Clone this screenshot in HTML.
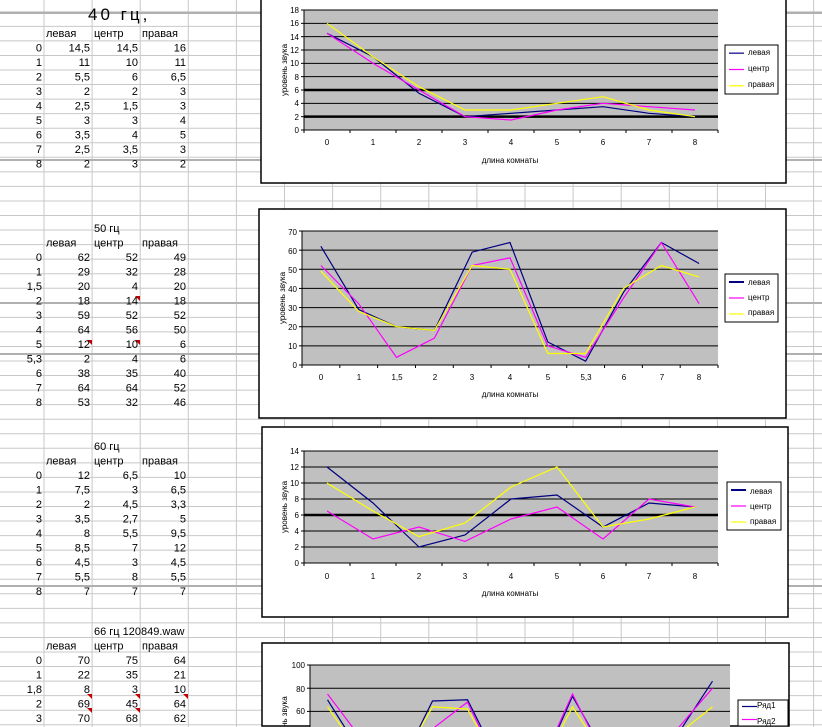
<!DOCTYPE html>
<html><head><meta charset="utf-8"><style>
html,body{margin:0;padding:0;background:#fff;overflow:hidden;width:822px;height:727px}
svg{display:block;font-family:"Liberation Sans",sans-serif;overflow:hidden}
.t{font-size:11px;fill:#000}
.s{font-size:8px;fill:#000}
</style></head><body>
<svg id="sv" width="822" height="727" viewBox="0 0 822 727" xmlns="http://www.w3.org/2000/svg">
<g id="grid"></g>
<g id="tables" class="t">
<text x="88" y="20" style="font-size:17px;font-weight:300;letter-spacing:3px">40 гц,</text>
<text x="46" y="37">левая</text><text x="94" y="37">центр</text><text x="142" y="37">правая</text>
<g text-anchor="end">
<text x="42" y="51.5">0</text><text x="90" y="51.5">14,5</text><text x="138" y="51.5">14,5</text><text x="186" y="51.5">16</text>
<text x="42" y="66">1</text><text x="90" y="66">11</text><text x="138" y="66">10</text><text x="186" y="66">11</text>
<text x="42" y="80.5">2</text><text x="90" y="80.5">5,5</text><text x="138" y="80.5">6</text><text x="186" y="80.5">6,5</text>
<text x="42" y="95">3</text><text x="90" y="95">2</text><text x="138" y="95">2</text><text x="186" y="95">3</text>
<text x="42" y="109.5">4</text><text x="90" y="109.5">2,5</text><text x="138" y="109.5">1,5</text><text x="186" y="109.5">3</text>
<text x="42" y="124">5</text><text x="90" y="124">3</text><text x="138" y="124">3</text><text x="186" y="124">4</text>
<text x="42" y="138.5">6</text><text x="90" y="138.5">3,5</text><text x="138" y="138.5">4</text><text x="186" y="138.5">5</text>
<text x="42" y="153">7</text><text x="90" y="153">2,5</text><text x="138" y="153">3,5</text><text x="186" y="153">3</text>
<text x="42" y="167.5">8</text><text x="90" y="167.5">2</text><text x="138" y="167.5">3</text><text x="186" y="167.5">2</text>
</g>
<text x="94" y="232">50 гц</text>
<text x="46" y="246.5">левая</text><text x="94" y="246.5">центр</text><text x="142" y="246.5">правая</text>
<g text-anchor="end">
<text x="42" y="261">0</text><text x="90" y="261">62</text><text x="138" y="261">52</text><text x="186" y="261">49</text>
<text x="42" y="275.5">1</text><text x="90" y="275.5">29</text><text x="138" y="275.5">32</text><text x="186" y="275.5">28</text>
<text x="42" y="290">1,5</text><text x="90" y="290">20</text><text x="138" y="290">4</text><text x="186" y="290">20</text>
<text x="42" y="304.5">2</text><text x="90" y="304.5">18</text><text x="138" y="304.5">14</text><text x="186" y="304.5">18</text>
<text x="42" y="319">3</text><text x="90" y="319">59</text><text x="138" y="319">52</text><text x="186" y="319">52</text>
<text x="42" y="333.5">4</text><text x="90" y="333.5">64</text><text x="138" y="333.5">56</text><text x="186" y="333.5">50</text>
<text x="42" y="348">5</text><text x="90" y="348">12</text><text x="138" y="348">10</text><text x="186" y="348">6</text>
<text x="42" y="362.5">5,3</text><text x="90" y="362.5">2</text><text x="138" y="362.5">4</text><text x="186" y="362.5">6</text>
<text x="42" y="377">6</text><text x="90" y="377">38</text><text x="138" y="377">35</text><text x="186" y="377">40</text>
<text x="42" y="391.5">7</text><text x="90" y="391.5">64</text><text x="138" y="391.5">64</text><text x="186" y="391.5">52</text>
<text x="42" y="406">8</text><text x="90" y="406">53</text><text x="138" y="406">32</text><text x="186" y="406">46</text>
</g>
<text x="94" y="450">60 гц</text>
<text x="46" y="464.5">левая</text><text x="94" y="464.5">центр</text><text x="142" y="464.5">правая</text>
<g text-anchor="end">
<text x="42" y="479">0</text><text x="90" y="479">12</text><text x="138" y="479">6,5</text><text x="186" y="479">10</text>
<text x="42" y="493.5">1</text><text x="90" y="493.5">7,5</text><text x="138" y="493.5">3</text><text x="186" y="493.5">6,5</text>
<text x="42" y="508">2</text><text x="90" y="508">2</text><text x="138" y="508">4,5</text><text x="186" y="508">3,3</text>
<text x="42" y="522.5">3</text><text x="90" y="522.5">3,5</text><text x="138" y="522.5">2,7</text><text x="186" y="522.5">5</text>
<text x="42" y="537">4</text><text x="90" y="537">8</text><text x="138" y="537">5,5</text><text x="186" y="537">9,5</text>
<text x="42" y="551.5">5</text><text x="90" y="551.5">8,5</text><text x="138" y="551.5">7</text><text x="186" y="551.5">12</text>
<text x="42" y="566">6</text><text x="90" y="566">4,5</text><text x="138" y="566">3</text><text x="186" y="566">4,5</text>
<text x="42" y="580.5">7</text><text x="90" y="580.5">5,5</text><text x="138" y="580.5">8</text><text x="186" y="580.5">5,5</text>
<text x="42" y="595">8</text><text x="90" y="595">7</text><text x="138" y="595">7</text><text x="186" y="595">7</text>
</g>
<text x="94" y="635">66 гц  120849.waw</text>
<text x="46" y="649.5">левая</text><text x="94" y="649.5">центр</text><text x="142" y="649.5">правая</text>
<g text-anchor="end">
<text x="42" y="664">0</text><text x="90" y="664">70</text><text x="138" y="664">75</text><text x="186" y="664">64</text>
<text x="42" y="678.5">1</text><text x="90" y="678.5">22</text><text x="138" y="678.5">35</text><text x="186" y="678.5">21</text>
<text x="42" y="693">1,8</text><text x="90" y="693">8</text><text x="138" y="693">3</text><text x="186" y="693">10</text>
<text x="42" y="707.5">2</text><text x="90" y="707.5">69</text><text x="138" y="707.5">45</text><text x="186" y="707.5">64</text>
<text x="42" y="722">3</text><text x="90" y="722">70</text><text x="138" y="722">68</text><text x="186" y="722">62</text>
</g>
</g>
<g id="charts"></g>
<g id="labels">
<g class="s" text-anchor="end">
<text x="299" y="133">0</text><text x="299" y="120">2</text><text x="299" y="106">4</text><text x="299" y="93">6</text><text x="299" y="80">8</text><text x="299" y="66">10</text><text x="299" y="53">12</text><text x="299" y="40">14</text><text x="299" y="26">16</text><text x="299" y="13">18</text>
</g>
<g class="s" text-anchor="middle">
<text x="327" y="145">0</text><text x="373" y="145">1</text><text x="419" y="145">2</text><text x="465" y="145">3</text><text x="511" y="145">4</text><text x="557" y="145">5</text><text x="603" y="145">6</text><text x="649" y="145">7</text><text x="695" y="145">8</text>
<text x="510" y="163">длина комнаты</text>
<text transform="translate(287,70) rotate(-90)">уровень звука</text>
</g>
<g class="s"><text x="748" y="55">левая</text><text x="748" y="71">центр</text><text x="748" y="87">правая</text></g>
<g class="s" text-anchor="end">
<text x="297" y="368">0</text><text x="297" y="349">10</text><text x="297" y="330">20</text><text x="297" y="311">30</text><text x="297" y="292">40</text><text x="297" y="273">50</text><text x="297" y="254">60</text><text x="297" y="235">70</text>
</g>
<g class="s" text-anchor="middle">
<text x="321" y="380">0</text><text x="359" y="380">1</text><text x="397" y="380">1,5</text><text x="435" y="380">2</text><text x="472" y="380">3</text><text x="510" y="380">4</text><text x="548" y="380">5</text><text x="586" y="380">5,3</text><text x="624" y="380">6</text><text x="662" y="380">7</text><text x="699" y="380">8</text>
<text x="510" y="397">длина комнаты</text>
<text transform="translate(285,298) rotate(-90)">уровень звука</text>
</g>
<g class="s"><text x="748" y="285">левая</text><text x="748" y="300">центр</text><text x="748" y="315">правая</text></g>
<g class="s" text-anchor="end">
<text x="299" y="566">0</text><text x="299" y="550">2</text><text x="299" y="534">4</text><text x="299" y="518">6</text><text x="299" y="502">8</text><text x="299" y="486">10</text><text x="299" y="470">12</text><text x="299" y="454">14</text>
</g>
<g class="s" text-anchor="middle">
<text x="327" y="579">0</text><text x="373" y="579">1</text><text x="419" y="579">2</text><text x="465" y="579">3</text><text x="511" y="579">4</text><text x="557" y="579">5</text><text x="603" y="579">6</text><text x="649" y="579">7</text><text x="695" y="579">8</text>
<text x="510" y="596">длина комнаты</text>
<text transform="translate(287,507) rotate(-90)">уровень звука</text>
</g>
<g class="s"><text x="750" y="494">левая</text><text x="750" y="509">центр</text><text x="750" y="524">правая</text></g>
<g class="s" text-anchor="end">
<text x="305" y="668">100</text><text x="305" y="692">80</text><text x="305" y="714">60</text>
</g>
<g class="s" text-anchor="start"><text transform="translate(287,727) rotate(-90)">нь звука</text></g>
<g class="s"><text x="757" y="708">Ряд1</text><text x="757" y="724">Ряд2</text></g>
</g>
</svg>
<script>
var NS="http://www.w3.org/2000/svg";
function el(p,n,a){var e=document.createElementNS(NS,n);for(var k in a)e.setAttribute(k,a[k]);p.appendChild(e);return e;}
var g=document.getElementById('grid');
for(var k=-1;k<50;k++){var y=11.8+14.55*k;el(g,'line',{x1:0,x2:822,y1:y,y2:y,stroke:'#c8c8c8','stroke-width':1});}
for(var k=0;k<17;k++){var x=44+48.1*k;el(g,'line',{x1:x,x2:x,y1:0,y2:727,stroke:'#c8c8c8','stroke-width':1});}
[13,160,303,354,586].forEach(function(y){el(g,'line',{x1:0,x2:822,y1:y,y2:y,stroke:'#b0b0b0','stroke-width':2});});
function tri(x,y){el(g,'polygon',{points:(x-5)+','+y+' '+x+','+y+' '+x+','+(y+5),fill:'#c00000'});}
tri(140,296);tri(92,340);tri(140,340);tri(92,694);tri(140,694);tri(188,694);tri(92,708);tri(140,708);
var c=document.getElementById('charts');
var cols=['#000080','#ff00ff','#ffff00'];
function chart(o){
 el(c,'rect',{x:o.bx,y:o.by,width:o.bw,height:o.bh,fill:'#fff',stroke:'#000','stroke-width':1.5});
 el(c,'rect',{x:o.px0,y:o.py0,width:o.px1-o.px0,height:o.py1-o.py0,fill:'#c0c0c0'});
 var n=o.max/o.step;
 for(var i=1;i<=n;i++){var v=i*o.step;var y=o.py1-(o.py1-o.py0)*v/o.max;
  el(c,'line',{x1:o.px0,x2:o.px1,y1:y,y2:y,stroke:'#000','stroke-width':(o.bold&&o.bold.indexOf(v)>=0)?2.5:1});}
 el(c,'line',{x1:o.px0,x2:o.px0,y1:o.py0,y2:o.py1+3,stroke:'#000'});
 el(c,'line',{x1:o.px0,x2:o.px1,y1:o.py1,y2:o.py1,stroke:'#000'});
 for(var i=0;i<=n;i++){var y=o.py1-(o.py1-o.py0)*i/n;el(c,'line',{x1:o.px0-3,x2:o.px0,y1:y,y2:y,stroke:'#000'});}
 var m=o.data[0].length,sp=(o.px1-o.px0)/m;
 for(var i=0;i<=m;i++){var x=o.px0+sp*i;el(c,'line',{x1:x,x2:x,y1:o.py1,y2:o.py1+3,stroke:'#000'});}
 o.data.forEach(function(d,si){var pts=d.map(function(v,i){return (o.px0+sp*(i+.5)).toFixed(1)+','+(o.py1-(o.py1-o.py0)*v/o.max).toFixed(1);}).join(' ');
  el(c,'polyline',{points:pts,fill:'none',stroke:cols[si],'stroke-width':1.2});});
 el(c,'rect',{x:o.lx,y:o.ly,width:o.lw,height:o.lh,fill:'#fff',stroke:'#000'});
 for(var i=0;i<o.ln;i++){var y=o.ly+o.lh*(i+.5)/o.ln;el(c,'line',{x1:o.lx+4,x2:o.lx+19,y1:y,y2:y,stroke:cols[i],'stroke-width':i==0&&o.thick?2:1.2});}
}
chart({bx:261,by:-2,bw:525,bh:185,px0:304,px1:718,py0:10,py1:130,max:18,step:2,bold:[2,6],
 data:[[14.5,11,5.5,2,2.5,3,3.5,2.5,2],[14.5,10,6,2,1.5,3,4,3.5,3],[16,11,6.5,3,3,4,5,3,2]],lx:725,ly:45,lw:53,lh:49,ln:3});
chart({bx:259,by:209,bw:527,bh:209,px0:302,px1:718,py0:231,py1:365,max:70,step:10,
 data:[[62,29,20,18,59,64,12,2,38,64,53],[52,32,4,14,52,56,10,4,35,64,32],[49,28,20,18,52,50,6,6,40,52,46]],lx:725,ly:274,lw:53,lh:48,ln:3,thick:1});
chart({bx:262,by:427,bw:526,bh:190,px0:304,px1:718,py0:451,py1:563,max:14,step:2,bold:[6],
 data:[[12,7.5,2,3.5,8,8.5,4.5,7.5,7],[6.5,3,4.5,2.7,5.5,7,3,8,7],[10,6.5,3.3,5,9.5,12,4.5,5.5,7]],lx:727,ly:482,lw:54,lh:48,ln:3,thick:1});
chart({bx:262,by:643,bw:527,bh:83,px0:310,px1:730,py0:665,py1:781,max:100,step:20,
 data:[[70,22,8,69,70,10,5,73,20,5,40,86],[75,35,3,45,68,5,8,75,15,3,45,80],[64,21,10,64,62,8,6,64,18,4,40,64]],lx:738,ly:700,lw:50,lh:26,ln:2});
document.getElementById('sv').appendChild(document.getElementById('labels'));
</script>
</body></html>
